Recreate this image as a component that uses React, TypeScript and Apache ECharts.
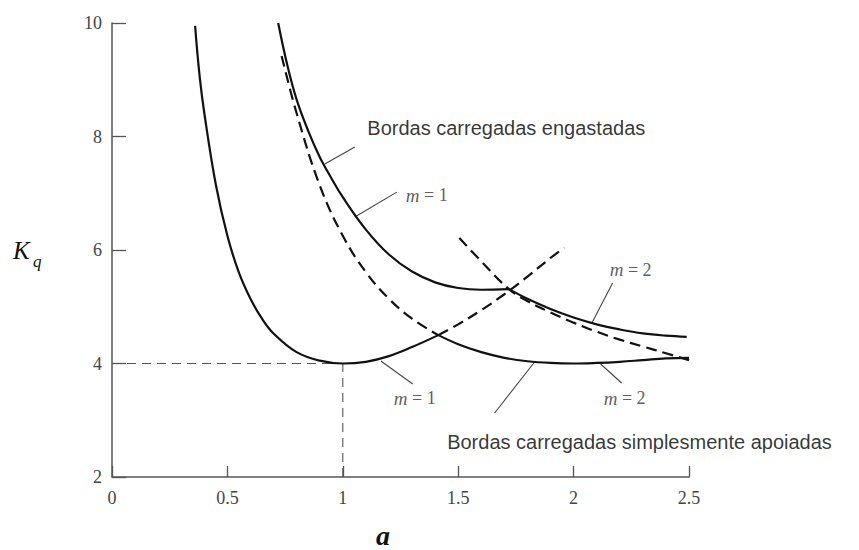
import React, { useEffect, useRef } from "react";
import * as echarts from "echarts";

// a (aspect ratio) vs K_q
const ssM1Solid: number[][] = [
  [0.36, 9.95], [0.38, 9.05], [0.4, 8.41], [0.45, 7.15], [0.5, 6.25], [0.55, 5.6],
  [0.6, 5.14], [0.65, 4.79], [0.7, 4.53], [0.8, 4.2], [0.9, 4.05], [1.0, 4.0],
  [1.1, 4.03], [1.2, 4.13], [1.3, 4.29], [1.414, 4.5],
];
const ssM1Dashed: number[][] = [
  [1.414, 4.5], [1.5, 4.69], [1.6, 4.94], [1.7, 5.22], [1.8, 5.53], [1.9, 5.86], [1.96, 6.04],
];
const ssM2Dashed: number[][] = [
  [0.735, 9.42], [0.8, 8.41], [0.9, 7.14], [1.0, 6.25], [1.1, 5.61], [1.2, 5.14],
  [1.3, 4.79], [1.414, 4.5],
];
const ssM2Solid: number[][] = [
  [1.414, 4.5], [1.5, 4.34], [1.6, 4.2], [1.7, 4.1], [1.8, 4.04], [1.9, 4.01], [2.0, 4.0],
  [2.1, 4.01], [2.2, 4.03], [2.3, 4.06], [2.4, 4.09], [2.5, 4.1],
];
const clM1Solid: number[][] = [
  [0.72, 10.0], [0.76, 9.25], [0.8, 8.65], [0.85, 8.1], [0.9, 7.64], [0.95, 7.27],
  [1.0, 6.93], [1.1, 6.36], [1.2, 5.92], [1.3, 5.62], [1.4, 5.43], [1.5, 5.33],
  [1.6, 5.3], [1.72, 5.31],
];
const clM2Solid: number[][] = [
  [1.72, 5.31], [1.8, 5.14], [1.9, 4.96], [2.0, 4.81], [2.1, 4.69], [2.2, 4.6],
  [2.3, 4.53], [2.4, 4.49], [2.49, 4.47],
];
const clM2Dashed: number[][] = [
  [1.505, 6.21], [1.6, 5.8], [1.72, 5.31], [1.8, 5.1], [1.9, 4.9], [2.0, 4.72],
  [2.1, 4.56], [2.2, 4.42], [2.3, 4.3], [2.4, 4.18], [2.5, 4.06],
];
const guideH: number[][] = [[0, 4], [1, 4]];
const guideV: number[][] = [[1, 2], [1, 4]];

// leader lines (data coordinates)
const leaders: number[][][] = [
  [[0.922, 7.515], [1.052, 7.815]],
  [[1.052, 6.58], [1.234, 7.02]],
  [[2.078, 4.705], [2.169, 5.419]],
  [[1.165, 4.044], [1.303, 3.639]],
  [[2.117, 3.991], [2.208, 3.656]],
  [[1.831, 4.026], [1.658, 3.128]],
];
const mLabels = ["1", "2", "1", "2"];
const mLabelPos: number[][] = [[1.364, 6.969], [2.247, 5.648], [1.312, 3.392], [2.221, 3.392]];
const boxTexts = ["Bordas carregadas engastadas", "Bordas carregadas simplesmente apoiadas"];
const boxTextPos: number[][] = [[1.104, 8.15], [1.45, 2.62]];

export default function App() {
  const ref = useRef<HTMLDivElement>(null);
  useEffect(() => {
    const chart = echarts.init(ref.current!, null, { renderer: "svg" });
    const curve = (data: number[][], dashed: boolean) => ({
      type: "line",
      data,
      symbol: "none",
      showSymbol: false,
      smooth: 0.4,
      silent: true,
      z: 3,
      lineStyle: { color: "#111", width: 2.2, type: dashed ? [11, 6] : "solid" },
    });
    const thin = (data: number[][], dashed: boolean, color: string) => ({
      type: "line",
      data,
      symbol: "none",
      showSymbol: false,
      silent: true,
      z: 2,
      lineStyle: { color, width: 1.1, type: dashed ? [9, 6] : "solid" },
    });
    const axisCommon = {
      type: "value",
      axisLine: { show: true, onZero: false, lineStyle: { color: "#555", width: 1.5 } },
      axisTick: { show: true, inside: true, lineStyle: { color: "#555", width: 1.3 } },
      splitLine: { show: false },
    };
    chart.setOption({
      animation: false,
      backgroundColor: "#fff",
      grid: { left: 112, right: 170, top: 23, bottom: 73 },
      xAxis: {
        ...axisCommon,
        min: 0,
        max: 2.5,
        interval: 0.5,
        axisTick: { ...axisCommon.axisTick, length: 11 },
        axisLabel: { color: "#444", fontFamily: "Liberation Serif", fontSize: 18, margin: 12 },
      },
      yAxis: {
        ...axisCommon,
        min: 2,
        max: 10,
        interval: 2,
        axisTick: { ...axisCommon.axisTick, length: 14 },
        axisLabel: { color: "#444", fontFamily: "Liberation Serif", fontSize: 18, margin: 10 },
      },
      graphic: [
        {
          type: "text",
          x: 13,
          y: 250,
          style: {
            text: "K",
            font: "italic 25px 'Liberation Serif'",
            fill: "#111",
            textAlign: "left",
            textVerticalAlign: "middle",
          },
        },
        {
          type: "text",
          x: 33,
          y: 261,
          style: {
            text: "q",
            font: "italic 17px 'Liberation Serif'",
            fill: "#111",
            textAlign: "left",
            textVerticalAlign: "middle",
          },
        },
        {
          type: "text",
          x: 383,
          y: 535,
          style: {
            text: "a",
            font: "italic bold 28px 'Liberation Serif'",
            fill: "#111",
            textAlign: "center",
            textVerticalAlign: "middle",
          },
        },
      ],
      series: [
        thin(guideH, true, "#555"),
        thin(guideV, true, "#555"),
        ...leaders.map((l) => thin(l, false, "#444")),
        curve(ssM1Solid, false),
        curve(ssM1Dashed, true),
        curve(ssM2Dashed, true),
        curve(ssM2Solid, false),
        curve(clM1Solid, false),
        curve(clM2Solid, false),
        curve(clM2Dashed, true),
        {
          type: "scatter",
          silent: true,
          symbolSize: 1,
          itemStyle: { color: "rgba(0,0,0,0)" },
          data: mLabelPos.map((p, i) => ({ value: p, name: mLabels[i] })),
          label: {
            show: true,
            position: "inside",
            formatter: (p: any) => "{i|m} = " + p.name,
            fontFamily: "Liberation Serif",
            fontSize: 18,
            color: "#333",
            rich: {
              i: { fontFamily: "Liberation Serif", fontStyle: "italic", fontSize: 19, color: "#333" },
            },
          },
          z: 4,
        },
        {
          type: "scatter",
          silent: true,
          symbolSize: 1,
          itemStyle: { color: "rgba(0,0,0,0)" },
          data: boxTextPos.map((p, i) => ({ value: p, name: boxTexts[i] })),
          label: {
            show: true,
            position: "right",
            distance: 0,
            formatter: (p: any) => p.name,
            fontFamily: "Liberation Sans",
            fontSize: 20,
            color: "#000",
          },
          z: 4,
        },
      ],
    });
    return () => chart.dispose();
  }, []);
  return (
    <div
      ref={ref}
      style={{ position: "fixed", left: 0, top: 0, width: 859, height: 550, background: "#fff" }}
    />
  );
}
